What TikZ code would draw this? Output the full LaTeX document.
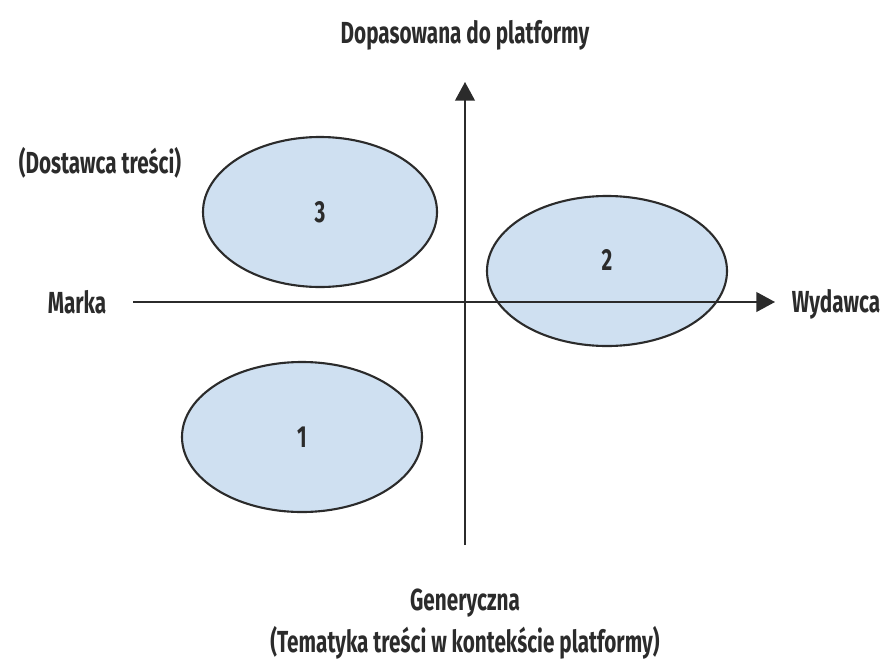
\documentclass[tikz,border=0pt]{standalone}
\usepackage{fontspec}
\setmainfont[FakeStretch=0.68]{Fira Sans}
\usetikzlibrary{shapes.geometric, arrows.meta}
\definecolor{ink}{HTML}{2B2B2B}
\definecolor{blob}{HTML}{CFE0F1}
\tikzset{
  pole/.style={ellipse, draw=ink, fill=blob, line width=1.8pt, minimum width=#1, inner sep=0pt},
  osie/.style={draw=ink, line width=1.3pt, -{Triangle[length=16pt,width=17pt]}},
  opis/.style={text=ink, font=\bfseries\fontsize{26}{30}\selectfont, inner sep=0pt},
  liczba/.style={text=ink, font=\bfseries\fontsize{26}{30}\selectfont}
}

\begin{document}
\begin{tikzpicture}[x=0.03cm, y=-0.03cm]
\useasboundingbox (0,0) rectangle (885,662);
% pola 1--3
\node[pole=7.02cm, minimum height=4.5cm] (p3) at (320,212) {};
\node[pole=7.2cm, minimum height=4.5cm] (p2) at (607,271) {};
\node[pole=7.2cm, minimum height=4.5cm] (p1) at (302,437) {};
\node[liczba] at (320,212) {3};
\node[liczba] at (607,260) {2};
\node[liczba] at (302,437) {1};
% osie
\coordinate (lewo) at (133,302);
\coordinate (prawo) at (775,302);
\coordinate (dol) at (465,545);
\coordinate (gora) at (465,82);
\draw[osie] (lewo) -- (prawo);
\draw[osie] (dol) -- (gora);
% opisy
\node[opis] (gor) at (465,35) {Dopasowana do platformy};
\node[opis] (dost) at (100,163) {(Dostawca treści)};
\node[opis] (marka) at (77,302) {Marka};
\node[opis] (wyd) at (836,304) {Wydawca};
\node[opis] (gen) at (465,603) {Generyczna};
\node[opis] (tem) at (465,643) {(Tematyka treści w kontekście platformy)};
\end{tikzpicture}
\end{document}
